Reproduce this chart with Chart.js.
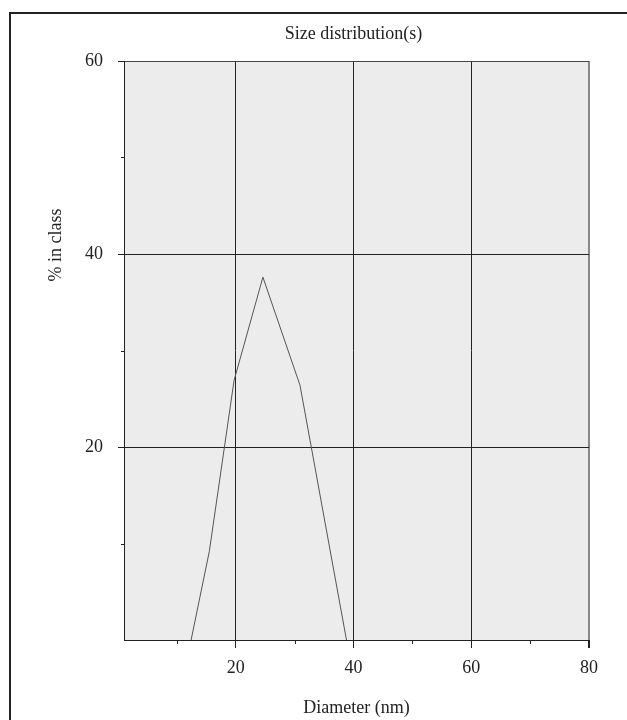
<!DOCTYPE html>
<html>
<head>
<meta charset="utf-8">
<script src="https://cdn.jsdelivr.net/npm/chart.js@4/dist/chart.umd.min.js"></script>
<style>
  html, body { margin: 0; padding: 0; background: #ffffff; }
  #wrap { width: 627px; height: 720px; position: relative; }
</style>
</head>
<body>
<div id="wrap"><canvas id="c" width="627" height="720"></canvas></div>
<script>
const chartTitle = "Size distribution(s)";
const xTitle = "Diameter (nm)";
const yTitle = "% in class";
const diameters = [12.4, 15.5, 19.7, 24.6, 30.9, 38.8];
const percents = [0, 9.2, 26.9, 37.6, 26.4, 0];
const xMajorTicks = [20, 40, 60, 80];
const xMinorTicks = [10, 30, 50, 70];
const yMajorTicks = [20, 40, 60];
const yMinorTicks = [10, 30, 50];

const serif = "'Liberation Serif', 'Times New Roman', serif";

const decor = {
  id: 'decor',
  beforeDraw(chart) {
    const { ctx, chartArea: a } = chart;
    ctx.save();
    ctx.fillStyle = '#ffffff';
    ctx.fillRect(0, 0, chart.width, chart.height);
    // outer frame (top and left visible)
    ctx.strokeStyle = '#222222';
    ctx.lineWidth = 2;
    ctx.beginPath();
    ctx.moveTo(10, 720);
    ctx.lineTo(10, 13);
    ctx.lineTo(627, 13);
    ctx.stroke();
    // plot background
    ctx.fillStyle = '#ececec';
    ctx.fillRect(a.left, a.top, a.right - a.left, a.bottom - a.top);
    ctx.restore();
  },
  afterDraw(chart) {
    const { ctx, chartArea: a, scales } = chart;
    ctx.save();
    // minor ticks
    ctx.strokeStyle = '#222222';
    ctx.lineWidth = 1;
    ctx.beginPath();
    xMinorTicks.forEach(v => {
      const px = Math.round(scales.x.getPixelForValue(v)) + 0.5;
      ctx.moveTo(px, a.bottom);
      ctx.lineTo(px, a.bottom + 4);
    });
    yMinorTicks.forEach(v => {
      const py = Math.round(scales.y.getPixelForValue(v)) + 0.5;
      ctx.moveTo(a.left, py);
      ctx.lineTo(a.left - 3, py);
    });
    ctx.stroke();
    // texts
    ctx.fillStyle = '#222222';
    ctx.font = '18px ' + serif;
    ctx.textAlign = 'center';
    ctx.textBaseline = 'middle';
    const cx = (a.left + a.right) / 2;
    ctx.fillText(chartTitle, cx - 3, 34);
    ctx.fillText(xTitle, cx, 708);
    ctx.translate(56, 245);
    ctx.rotate(-Math.PI / 2);
    ctx.fillText(yTitle, 0, 0);
    ctx.restore();
  }
};

new Chart(document.getElementById('c'), {
  type: 'line',
  data: {
    datasets: [{
      data: diameters.map((d, i) => ({ x: d, y: percents[i] })),
      borderColor: '#555555',
      borderWidth: 1,
      pointRadius: 0,
      tension: 0,
      fill: false
    }]
  },
  options: {
    responsive: false,
    animation: false,
    devicePixelRatio: 1,
    layout: { padding: { top: 61, left: 0, right: 38, bottom: 0 } },
    plugins: { legend: { display: false }, title: { display: false }, tooltip: { enabled: false } },
    scales: {
      x: {
        type: 'linear',
        min: 1,
        max: 80,
        afterBuildTicks: s => { s.ticks = xMajorTicks.map(v => ({ value: v })); },
        afterFit: s => { s.height = 80; },
        ticks: {
          color: '#222222',
          font: { family: serif, size: 18 },
          padding: 9,
          maxRotation: 0,
          autoSkip: false
        },
        grid: {
          color: c => (c.tick && c.tick.value === 80) ? '#888888' : '#222222',
          lineWidth: c => (c.tick && c.tick.value === 80) ? 2 : 1,
          tickColor: '#222222',
          tickLength: 8
        },
        border: { display: true, color: '#222222', width: 1 }
      },
      y: {
        type: 'linear',
        min: 0,
        max: 60,
        afterBuildTicks: s => { s.ticks = yMajorTicks.map(v => ({ value: v })); },
        afterFit: s => { s.width = 124; },
        ticks: {
          color: '#222222',
          font: { family: serif, size: 18 },
          padding: 15,
          autoSkip: false
        },
        grid: {
          color: c => (c.tick && c.tick.value === 60) ? '#444444' : '#222222',
          lineWidth: 1,
          tickColor: '#222222',
          tickLength: 6
        },
        border: { display: true, color: '#222222', width: 1 }
      }
    }
  },
  plugins: [decor]
});
</script>
</body>
</html>
